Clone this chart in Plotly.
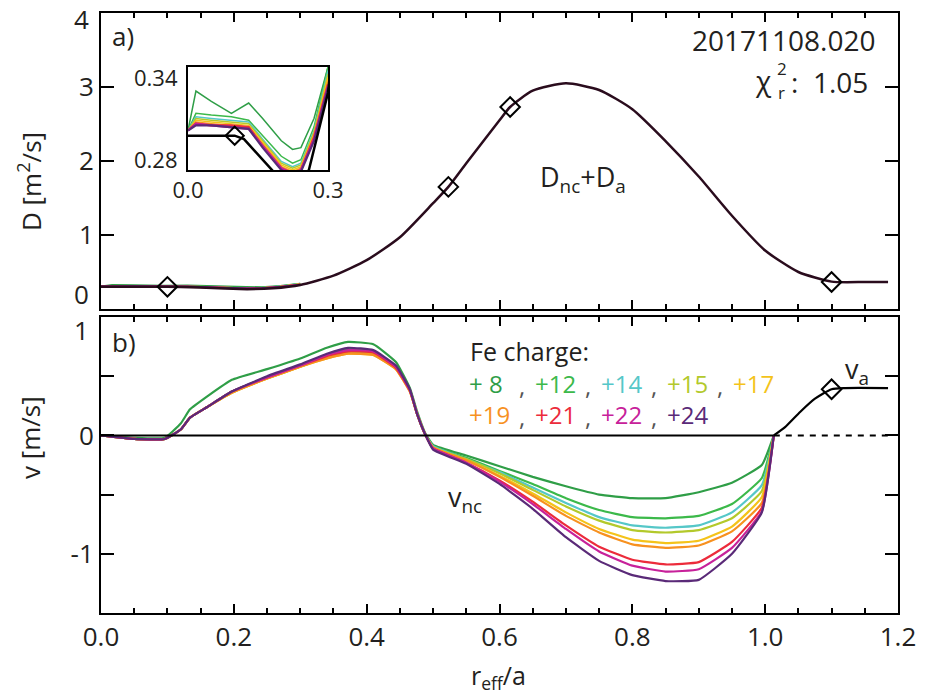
import plotly.graph_objects as go

# ---------------- data ----------------
charges = ['+ 8', '+12', '+14', '+15', '+17', '+19', '+21', '+22', '+24']
colors = ['#2f9e47', '#3cb94a', '#55c7c8', '#b3c92b', '#f4c31a', '#f7911f', '#ec2b3b', '#c7219a', '#5a2a78']

# total diffusion D_nc + D_a (black curve, panel a)
x_D = [0.0, 0.1, 0.12, 0.177, 0.22, 0.259, 0.3, 0.35, 0.4, 0.45, 0.5, 0.523, 0.55, 0.6, 0.616,
       0.65, 0.7, 0.75, 0.8, 0.85, 0.9, 0.95, 1.0, 1.05, 1.1, 1.15, 1.185]
D_total = [0.30, 0.30, 0.298, 0.28, 0.268, 0.28, 0.325, 0.45, 0.66, 0.97, 1.43, 1.65, 1.97, 2.55, 2.73,
           2.95, 3.05, 2.96, 2.70, 2.27, 1.79, 1.26, 0.79, 0.50, 0.37, 0.365, 0.365]

# knots (diamonds)
knot_D_x = [0.1, 0.523, 0.616, 1.1]
knot_D_y = [0.30, 1.65, 2.73, 0.365]
knot_v_x = [1.1]
knot_v_y = [0.39]

# inset: D per charge state near the axis
x_inset = [0.0, 0.017, 0.05, 0.093, 0.13, 0.16, 0.2, 0.224, 0.242, 0.27, 0.3]
D_inset = {
    '+ 8': [0.303, 0.326, 0.320, 0.313, 0.319, 0.310, 0.297, 0.292, 0.293, 0.310, 0.340],
    '+12': [0.303, 0.313, 0.312, 0.311, 0.309, 0.300, 0.288, 0.284, 0.286, 0.305, 0.340],
    '+14': [0.303, 0.311, 0.310, 0.309, 0.308, 0.298, 0.285, 0.282, 0.284, 0.303, 0.338],
    '+15': [0.303, 0.310, 0.309, 0.308, 0.307, 0.297, 0.284, 0.281, 0.283, 0.302, 0.336],
    '+17': [0.303, 0.309, 0.308, 0.307, 0.306, 0.296, 0.283, 0.280, 0.282, 0.301, 0.334],
    '+19': [0.303, 0.308, 0.307, 0.306, 0.305, 0.295, 0.282, 0.279, 0.281, 0.300, 0.332],
    '+21': [0.303, 0.307, 0.306, 0.306, 0.305, 0.294, 0.281, 0.278, 0.280, 0.299, 0.330],
    '+22': [0.303, 0.307, 0.306, 0.305, 0.304, 0.294, 0.281, 0.278, 0.280, 0.298, 0.329],
    '+24': [0.303, 0.306, 0.306, 0.305, 0.304, 0.293, 0.280, 0.277, 0.279, 0.297, 0.328],
}

# neoclassical convection per charge state (panel b)
x_v = [0.0, 0.05, 0.096, 0.12, 0.134, 0.16, 0.197, 0.25, 0.3, 0.34, 0.372, 0.41, 0.444, 0.465,
       0.476, 0.488, 0.5, 0.55, 0.6, 0.65, 0.7, 0.75, 0.8, 0.85, 0.9, 0.95, 0.995, 1.013]
v_nc = {
    '+ 8': [0.0, -0.02, -0.02, 0.10, 0.22, 0.33, 0.47, 0.56, 0.65, 0.74, 0.79, 0.77, 0.62, 0.40,
            0.20, 0.02, -0.08, -0.17, -0.26, -0.35, -0.43, -0.50, -0.53, -0.53, -0.48, -0.40, -0.25, 0.0],
    '+12': [0.0, -0.03, -0.03, 0.05, 0.15, 0.24, 0.37, 0.49, 0.59, 0.68, 0.73, 0.71, 0.58, 0.38,
            0.18, 0.01, -0.09, -0.19, -0.30, -0.41, -0.53, -0.63, -0.69, -0.70, -0.68, -0.58, -0.36, 0.0],
    '+14': [0.0, -0.03, -0.03, 0.05, 0.15, 0.24, 0.37, 0.49, 0.59, 0.67, 0.71, 0.70, 0.57, 0.38,
            0.18, 0.01, -0.09, -0.20, -0.31, -0.44, -0.57, -0.69, -0.76, -0.78, -0.76, -0.65, -0.42, 0.0],
    '+15': [0.0, -0.03, -0.03, 0.05, 0.15, 0.24, 0.36, 0.48, 0.58, 0.66, 0.70, 0.69, 0.57, 0.38,
            0.18, 0.01, -0.10, -0.20, -0.32, -0.46, -0.60, -0.72, -0.80, -0.82, -0.80, -0.70, -0.47, 0.0],
    '+17': [0.0, -0.03, -0.03, 0.05, 0.15, 0.24, 0.36, 0.48, 0.58, 0.65, 0.69, 0.68, 0.56, 0.37,
            0.18, 0.01, -0.10, -0.21, -0.34, -0.49, -0.65, -0.79, -0.88, -0.91, -0.89, -0.77, -0.52, 0.0],
    '+19': [0.0, -0.03, -0.03, 0.05, 0.15, 0.24, 0.36, 0.48, 0.58, 0.65, 0.69, 0.68, 0.56, 0.37,
            0.18, 0.01, -0.10, -0.21, -0.35, -0.51, -0.68, -0.82, -0.92, -0.95, -0.93, -0.81, -0.57, 0.0],
    '+21': [0.0, -0.03, -0.03, 0.05, 0.15, 0.24, 0.37, 0.49, 0.59, 0.67, 0.71, 0.70, 0.57, 0.38,
            0.18, 0.01, -0.11, -0.23, -0.38, -0.56, -0.76, -0.94, -1.05, -1.09, -1.07, -0.90, -0.61, 0.0],
    '+22': [0.0, -0.03, -0.03, 0.05, 0.15, 0.24, 0.37, 0.49, 0.59, 0.68, 0.72, 0.71, 0.58, 0.38,
            0.18, 0.01, -0.11, -0.23, -0.39, -0.58, -0.79, -0.98, -1.10, -1.15, -1.13, -0.95, -0.64, 0.0],
    '+24': [0.0, -0.03, -0.03, 0.05, 0.15, 0.24, 0.37, 0.50, 0.60, 0.69, 0.74, 0.72, 0.59, 0.39,
            0.18, 0.01, -0.12, -0.24, -0.41, -0.62, -0.86, -1.06, -1.18, -1.23, -1.22, -1.00, -0.65, 0.0],
}

# anomalous convection v_a
x_va = [1.013, 1.03, 1.053, 1.075, 1.1, 1.12, 1.185]
v_a = [0.0, 0.07, 0.20, 0.31, 0.39, 0.40, 0.40]

x_zero_solid = [0.0, 1.013]
x_zero_dash = [1.013, 1.185]

x_ticks = [0.0, 0.2, 0.4, 0.6, 0.8, 1.0, 1.2]
x_ticktext = ['0.0', '0.2', '0.4', '0.6', '0.8', '1.0', '1.2']
D_ticks = [0, 1, 2, 3, 4]
D_ticktext = ['', '1', '2', '3', '']
v_ticks = [-1.5, -1.0, -0.5, 0.0, 0.5, 1.0]
v_ticktext = ['', '-1', '', '0', '', '']

# ---------------- layout helpers ----------------
W, H = 930, 697
L, R, T, B = 101, 32, 13, 84
PW, PH = W - L - R, H - T - B


def px(xp):
    return (xp - L) / PW


def py(yp):
    return (H - B - yp) / PH


FONT = 'Open Sans'
TXT = '#231f20'
FS = 26

fig = go.Figure()

# ---- panel a ----
for c, col in zip(charges, colors):
    fig.add_trace(go.Scatter(x=x_inset, y=D_inset[c], mode='lines', line=dict(color=col, width=2),
                             xaxis='x2', yaxis='y2', showlegend=False, hoverinfo='skip'))
fig.add_trace(go.Scatter(x=x_D, y=D_total, mode='lines', line=dict(color='#2a0c1d', width=2.5, shape='spline', smoothing=0.6),
                         xaxis='x2', yaxis='y2', showlegend=False))
fig.add_trace(go.Scatter(x=knot_D_x, y=knot_D_y, mode='markers',
                         marker=dict(symbol='diamond-open', size=15, color='black', line=dict(width=2)),
                         xaxis='x2', yaxis='y2', showlegend=False))

# ---- inset ----
for c, col in zip(charges, colors):
    w = 2.2 if c in ('+21', '+22', '+24') else 1.5
    fig.add_trace(go.Scatter(x=x_inset, y=D_inset[c], mode='lines', line=dict(color=col, width=w),
                             xaxis='x3', yaxis='y3', showlegend=False))
fig.add_trace(go.Scatter(x=x_D, y=D_total, mode='lines', line=dict(color='black', width=2.5),
                         xaxis='x3', yaxis='y3', showlegend=False))
fig.add_trace(go.Scatter(x=knot_D_x, y=knot_D_y, mode='markers',
                         marker=dict(symbol='diamond-open', size=14, color='black', line=dict(width=2)),
                         xaxis='x3', yaxis='y3', showlegend=False, cliponaxis=True))

# ---- panel b ----
for c, col in zip(charges, colors):
    fig.add_trace(go.Scatter(x=x_v, y=v_nc[c], mode='lines', line=dict(color=col, width=2.2, shape='spline', smoothing=0.4),
                             xaxis='x', yaxis='y', showlegend=False))
fig.add_trace(go.Scatter(x=x_zero_solid, y=[0, 0], mode='lines', line=dict(color='black', width=2),
                         xaxis='x', yaxis='y', showlegend=False))
fig.add_trace(go.Scatter(x=x_zero_dash, y=[0, 0], mode='lines', line=dict(color='black', width=2, dash='6px,6px'),
                         xaxis='x', yaxis='y', showlegend=False))
fig.add_trace(go.Scatter(x=x_va, y=v_a, mode='lines', line=dict(color='black', width=2.2, shape='spline', smoothing=0.6),
                         xaxis='x', yaxis='y', showlegend=False))
fig.add_trace(go.Scatter(x=knot_v_x, y=knot_v_y, mode='markers',
                         marker=dict(symbol='diamond-open', size=15, color='black', line=dict(width=2)),
                         xaxis='x', yaxis='y', showlegend=False))

axis_common = dict(showline=True, linecolor='black', linewidth=2, mirror='allticks', ticks='inside',
                   tickcolor='black', showgrid=False, zeroline=False, automargin=False,
                   tickfont=dict(family=FONT, size=FS, color=TXT))

top_dom = [py(309), 1.0]
bot_dom = [0.0, py(317)]

fig.update_layout(
    width=W, height=H, margin=dict(l=L, r=R, t=T, b=B, autoexpand=False),
    paper_bgcolor='white', plot_bgcolor='white',
    font=dict(family=FONT, color=TXT),
    xaxis=dict(axis_common, domain=[0, 1], anchor='y', range=[0, 1.2], tickvals=x_ticks, ticktext=x_ticktext,
               ticklen=9, tickwidth=1.5,
               minor=dict(dtick=0.05, tick0=0, ticklen=5, tickwidth=1.5, ticks='inside', tickcolor='black')),
    yaxis=dict(axis_common, domain=bot_dom, anchor='x', range=[-1.5, 1.0], tickvals=v_ticks, ticktext=v_ticktext,
               ticklen=13, tickwidth=1.5),
    xaxis2=dict(axis_common, domain=[0, 1], anchor='y2', range=[0, 1.2], tickvals=x_ticks, showticklabels=False,
                ticklen=9, tickwidth=1.5,
                minor=dict(dtick=0.05, tick0=0, ticklen=5, tickwidth=1.5, ticks='inside', tickcolor='black')),
    yaxis2=dict(axis_common, domain=top_dom, anchor='x2', range=[0, 4], tickvals=D_ticks, ticktext=D_ticktext,
                ticklen=13, tickwidth=1.5),
    xaxis3=dict(domain=[px(188), px(328)], anchor='y3', range=[0, 0.3], showline=True, linecolor='black',
                linewidth=2, mirror=True, ticks='', showgrid=False, zeroline=False, automargin=False,
                tickvals=[0, 0.3], ticktext=['0.0', '0.3'], tickfont=dict(family=FONT, size=22, color=TXT)),
    yaxis3=dict(domain=[py(170), py(67)], anchor='x3', range=[0.28, 0.34], showline=True, linecolor='black',
                linewidth=2, mirror=True, ticks='', showgrid=False, zeroline=False, automargin=False,
                showticklabels=False),
)

ann = []


def add(text, xp, yp, size=FS, xanchor='center', yanchor='middle', color=TXT, angle=0):
    ann.append(dict(text=text, x=px(xp), y=py(yp), xref='paper', yref='paper', showarrow=False,
                    xanchor=xanchor, yanchor=yanchor, textangle=angle,
                    font=dict(family=FONT, size=size, color=color)))


# end tick labels that the reference nudges inward
add('4', 91, 19, xanchor='right')
add('0', 91, 294, xanchor='right')
add('1', 91, 330, xanchor='right')

# inset y labels (nudged inward like the reference)
add('0.34', 180, 77, xanchor='right', size=22)
add('0.28', 180, 159, xanchor='right', size=22)

# axis titles
add('D [m<sup>2</sup>/s]', 30, 182, angle=-90)
add('v [m/s]', 30, 438, angle=-90)
add('r<sub>eff</sub>/a', 498, 676, size=25)

# panel labels and info
add('a)', 110, 36, xanchor='left')
add('b)', 110, 342, xanchor='left')
add('20171108.020', 877, 40, xanchor='right', size=28)
add('χ', 774, 80, xanchor='right', size=28)
add('r', 776, 92, xanchor='left', size=17)
add('2', 775, 68, xanchor='left', size=17)
add(':  1.05', 789, 82, xanchor='left', size=28)
add('D<sub>nc</sub>+D<sub>a</sub>', 583, 178, size=27)
add('v<sub>nc</sub>', 465, 498, size=27)
add('v<sub>a</sub>', 857, 370, size=27)

# Fe charge legend
add('Fe charge:', 468, 351, xanchor='left', size=25)
row1 = [('+ 8', 467, '#2f9e47'), ('+12', 533, '#3cb94a'), ('+14', 599, '#55c7c8'), ('+15', 665, '#b3c92b'),
        ('+17', 731, '#f4c31a')]
row2 = [('+19', 467, '#f7911f'), ('+21', 533, '#ec2b3b'), ('+22', 599, '#c7219a'), ('+24', 665, '#5a2a78')]
for row, yrow in ((row1, 383.5), (row2, 414)):
    for i, (t, xl, col) in enumerate(row):
        add(t, xl, yrow, xanchor='left', size=24, color=col)
        if i < len(row) - 1:
            add(',', row[i + 1][1] - 6, yrow + 2, xanchor='right', size=24, color='#555555')

fig.update_layout(annotations=ann)

fig.write_html('out.html')
